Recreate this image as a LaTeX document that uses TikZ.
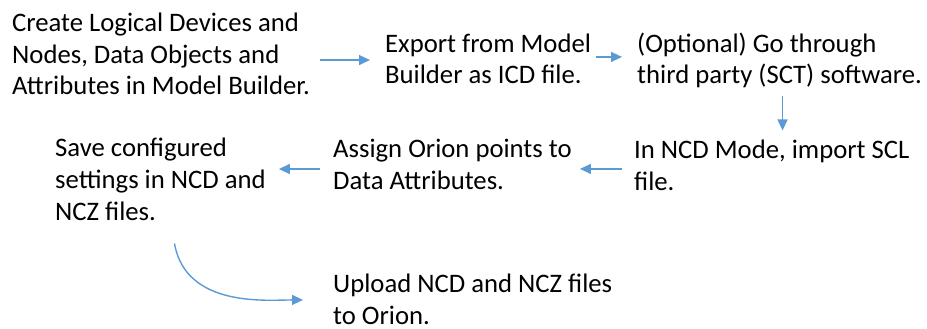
\documentclass[tikz,border=0pt]{standalone}
\usepackage{fontspec}
\setmainfont{Carlito}
\usepackage{xcolor}
\usetikzlibrary{arrows.meta}
\definecolor{flowblue}{HTML}{5B9BD5}

\begin{document}
\begin{tikzpicture}[x=1pt,y=1pt,>={Triangle[length=11pt,width=10pt]},
  stepbox/.style={anchor=base west,align=left,inner sep=0pt,
    font=\fontsize{26.7}{31.8}\selectfont},
  flow/.style={->,flowblue,line width=1.4pt}]
  \useasboundingbox (0,0) rectangle (927,-329);
  % steps (anchored at the baseline of the last line)
  \node[stepbox] (s1) at (12,-95) {Create Logical Devices and\\Nodes, Data Objects and\\Attributes in Model Builder.};
  \node[stepbox] (s2) at (385,-84) {Export from Model\\Builder as ICD file.};
  \node[stepbox] (s3) at (637,-84) {(Optional) Go through\\third party (SCT) software.};
  \node[stepbox] (s4) at (634,-190) {In NCD Mode, import SCL\\file.};
  \node[stepbox] (s5) at (333,-189) {Assign Orion points to\\Data Attributes.};
  \node[stepbox] (s6) at (55,-220) {Save configured\\settings in NCD and\\NCZ files.};
  \node[stepbox] (s7) at (333,-324) {Upload NCD and NCZ files\\to Orion.};
  % arrows
  \draw[flow,shorten <=10pt,shorten >=15pt] ([yshift=-6pt]s1.east) -- ([yshift=-6pt]s1.east -| s2.west);
  \draw[flow,shorten <=5pt,shorten >=15pt] ([yshift=2pt]s2.east) -- ([yshift=2pt]s2.east -| s3.west);
  \draw[flow,shorten <=7pt,shorten >=9pt] ([xshift=3pt]s3.south) -- ([xshift=3pt]s3.south |- s4.north);
  \draw[flow,shorten <=12pt,shorten >=8pt] ([yshift=-4pt]s4.west) -- ([yshift=-4pt]s4.west -| s5.east);
  \draw[flow,shorten <=13pt,shorten >=13pt] ([yshift=-5pt]s5.west) -- ([yshift=-5pt]s5.west -| s6.east);
  \draw[flow,shorten >=30pt] ([xshift=14pt,yshift=-23pt]s6.south) to[out=-80,in=180] ([yshift=-1pt]s7.west);
\end{tikzpicture}
\end{document}
